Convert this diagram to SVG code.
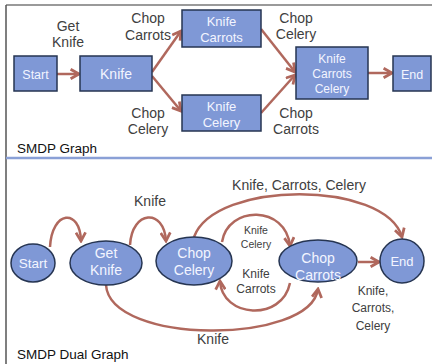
<svg xmlns="http://www.w3.org/2000/svg" width="432" height="364" viewBox="0 0 432 364">
<defs>
<marker id="ah" markerUnits="userSpaceOnUse" markerWidth="12" markerHeight="12" viewBox="0 0 10 10" refX="8.5" refY="5" orient="auto">
<path d="M1.5,1 L8.5,5 L1.5,9" fill="none" stroke="#b0685d" stroke-width="2.3" stroke-linejoin="miter"/>
</marker>
</defs>
<style>
.box{fill:#7f98d6;stroke:#263552;stroke-width:1.5}
.nt{font-family:"Liberation Sans",Arial,sans-serif;fill:#f3f5ff;text-anchor:middle}
.lb{font-family:"Liberation Sans",Arial,sans-serif;fill:#404040;text-anchor:middle}
.ttl{font-family:"Liberation Sans",Arial,sans-serif;fill:#111;font-size:13.5px}
.cn{fill:none;stroke:#b0685d;stroke-width:2.5;marker-end:url(#ah)}
</style>
<rect width="432" height="364" fill="#fff"/>
<g id="frame">
<line x1="6" y1="5" x2="432" y2="5" stroke="#9a9a9a" stroke-width="2"/>
<line x1="6" y1="5" x2="6" y2="364" stroke="#555" stroke-width="1.5"/>
<line x1="6" y1="158" x2="432" y2="158" stroke="#8aa0d6" stroke-width="2.5"/>
<text class="ttl" x="17" y="153">SMDP Graph</text>
<text class="ttl" x="17" y="359">SMDP Dual Graph</text>
</g>
<g id="connectors">
<path class="cn" d="M57,74 L79,74"/>
<path class="cn" d="M152,72 L181,31"/>
<path class="cn" d="M152,76 L181,111"/>
<path class="cn" d="M261,29 L295,72"/>
<path class="cn" d="M261,113 L295,75"/>
<path class="cn" d="M368,73 L392,73"/>
<path class="cn" d="M50,247 C52,210 80,208 81,241"/>
<path class="cn" d="M130,245 C132,210 164,208 166,241"/>
<path class="cn" d="M194,237 C215,180 385,180 402,237"/>
<path class="cn" d="M222,242 C228,205 286,205 290,246"/>
<path class="cn" d="M290,283 C282,322 222,318 220,281"/>
<path class="cn" d="M106,285 C110,345 310,345 318,289"/>
<path class="cn" d="M358,262 L379,262"/>
<text class="lb" font-size="14" x="68" y="31">Get</text>
<text class="lb" font-size="14" x="68" y="47">Knife</text>
<text class="lb" font-size="14" x="148" y="23">Chop</text>
<text class="lb" font-size="14" x="148" y="40">Carrots</text>
<text class="lb" font-size="14" x="148" y="118">Chop</text>
<text class="lb" font-size="14" x="148" y="134">Celery</text>
<text class="lb" font-size="14" x="296" y="23">Chop</text>
<text class="lb" font-size="14" x="296" y="39">Celery</text>
<text class="lb" font-size="14" x="296" y="118">Chop</text>
<text class="lb" font-size="14" x="296" y="134">Carrots</text>
<text class="lb" font-size="14" x="150" y="206">Knife</text>
<text class="lb" font-size="14" x="299" y="190">Knife, Carrots, Celery</text>
<text class="lb" font-size="10.5" x="256" y="234">Knife</text>
<text class="lb" font-size="10.5" x="256" y="248">Celery</text>
<text class="lb" font-size="12" x="256" y="278">Knife</text>
<text class="lb" font-size="12" x="256" y="293">Carrots</text>
<text class="lb" font-size="12" x="373" y="295">Knife,</text>
<text class="lb" font-size="12" x="373" y="312">Carrots,</text>
<text class="lb" font-size="12" x="373" y="330">Celery</text>
<text class="lb" font-size="14" x="213" y="344">Knife</text>
</g>
<g id="t-start"><rect class="box" x="14" y="56" width="43" height="35"/><text class="nt" font-size="12.5" x="35.5" y="79">Start</text></g>
<g id="t-knife"><rect class="box" x="80" y="56" width="72" height="35"/><text class="nt" font-size="14" x="116" y="79">Knife</text></g>
<g id="t-kcar"><rect class="box" x="182" y="10" width="79" height="37"/><text class="nt" font-size="13" x="221.5" y="26">Knife</text><text class="nt" font-size="13" x="221.5" y="42">Carrots</text></g>
<g id="t-kcel"><rect class="box" x="182" y="95" width="79" height="36"/><text class="nt" font-size="13" x="221.5" y="111">Knife</text><text class="nt" font-size="13" x="221.5" y="127">Celery</text></g>
<g id="t-kcc"><rect class="box" x="296" y="47" width="72" height="52"/><text class="nt" font-size="12" x="332" y="63">Knife</text><text class="nt" font-size="12" x="332" y="78">Carrots</text><text class="nt" font-size="12" x="332" y="93">Celery</text></g>
<g id="t-end"><rect class="box" x="393" y="56" width="38" height="35"/><text class="nt" font-size="12.5" x="412" y="79">End</text></g>
<g id="d-start"><ellipse class="box" cx="33" cy="263" rx="22" ry="19"/><text class="nt" font-size="13.5" x="33" y="268">Start</text></g>
<g id="d-getknife"><ellipse class="box" cx="106" cy="263" rx="36" ry="22"/><text class="nt" font-size="14" x="106" y="258">Get</text><text class="nt" font-size="14" x="106" y="275">Knife</text></g>
<g id="d-chopcelery"><ellipse class="box" cx="194" cy="261" rx="38" ry="24"/><text class="nt" font-size="14" x="194" y="258">Chop</text><text class="nt" font-size="14" x="194" y="275">Celery</text></g>
<g id="d-chopcarrots"><ellipse class="box" cx="318" cy="261" rx="39" ry="21"/><text class="nt" font-size="14" x="318" y="263">Chop</text><text class="nt" font-size="14" x="318" y="280">Carrots</text></g>
<g id="d-end"><ellipse class="box" cx="402" cy="261" rx="22" ry="22"/><text class="nt" font-size="13" x="402" y="266">End</text></g>
</svg>
